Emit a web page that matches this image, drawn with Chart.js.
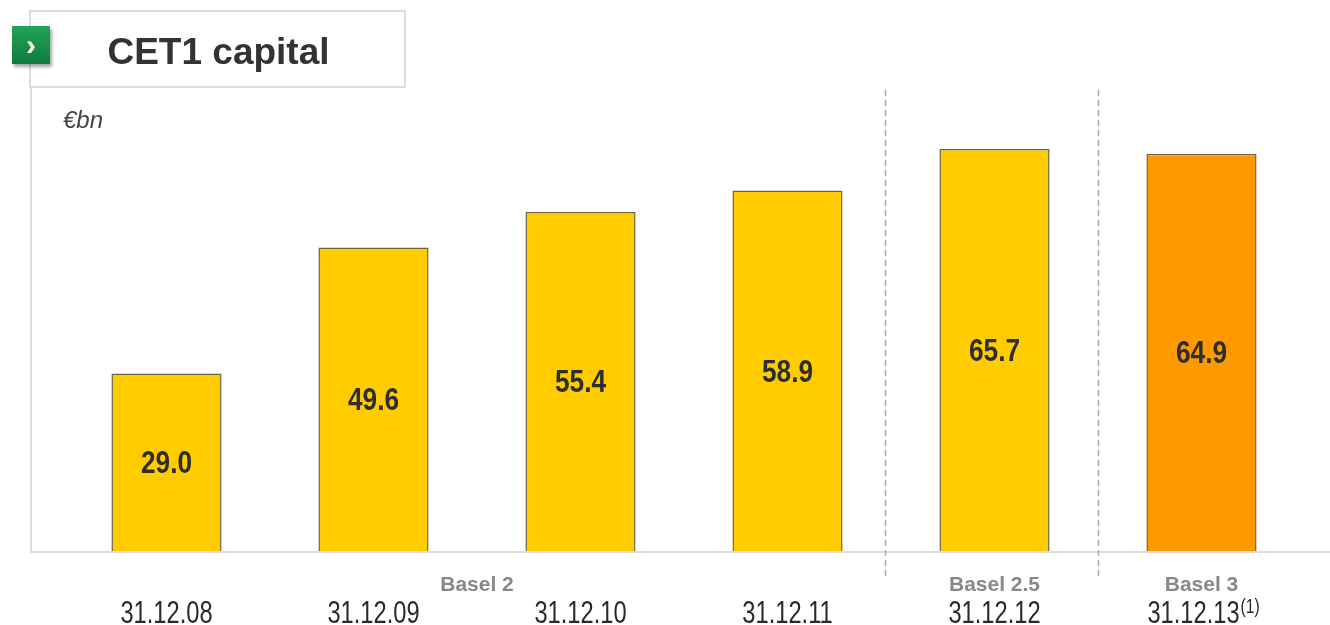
<!DOCTYPE html>
<html>
<head>
<meta charset="utf-8">
<script src="https://cdn.jsdelivr.net/npm/chart.js@4.4.1/dist/chart.umd.min.js"></script>
<style>
  html, body { margin: 0; padding: 0; background: #fff; }
  #wrap { position: relative; width: 1330px; height: 625px; overflow: hidden; }
  #c { position: absolute; left: 0; top: 0; }
  #titlebox { position: absolute; left: 29px; top: 10px; width: 373px; height: 74px;
    border: 2px solid #dcdcdc; background: #fff; box-sizing: content-box; }
  #title { position: absolute; left: 0; top: 0; width: 375px; height: 76px; line-height: 80px;
    text-align: center; font-family: "Liberation Sans", Arial, sans-serif; font-weight: bold;
    font-size: 37px; color: #333; }
  #icon { position: absolute; left: 12px; top: 26px; width: 38px; height: 38px;
    background: linear-gradient(#23a458, #0f7a3c); box-shadow: 2px 3px 3px rgba(0,0,0,0.35);
    color: #fff; font-family: "Liberation Sans", Arial, sans-serif; font-weight: bold; font-size: 30px;
    line-height: 38px; text-align: center; }
  #unit { position: absolute; left: 63px; top: 106px; font-family: "Liberation Sans", Arial, sans-serif;
    font-style: italic; font-size: 24px; color: #444; }
</style>
</head>
<body>
<div id="wrap">
  <canvas id="c" width="1330" height="625"></canvas>
  <div id="titlebox"><div id="title">CET1 capital</div></div>
  <div id="icon">›</div>
  <div id="unit">€bn</div>
</div>
<script>
const categories = ["31.12.08", "31.12.09", "31.12.10", "31.12.11", "31.12.12", "31.12.13"];
const footnotes = ["", "", "", "", "", "(1)"];
const values = [29.0, 49.6, 55.4, 58.9, 65.7, 64.9];
const barColors = ["#FFCC00", "#FFCC00", "#FFCC00", "#FFCC00", "#FFCC00", "#FF9900"];
const regimeLabels = ["Basel 2", "Basel 2.5", "Basel 3"];
const regimeSpans = [[0, 3], [4, 4], [5, 5]];
const separators = [3.47, 4.5];

const sans = '"Liberation Sans", Arial, sans-serif';

function drawScaled(ctx, text, x, y, sx, align) {
  ctx.save();
  ctx.translate(x, y);
  ctx.scale(sx, 1);
  ctx.textAlign = align || 'center';
  ctx.fillText(text, 0, 0);
  ctx.restore();
}

const decor = {
  id: 'decor',
  beforeDatasetsDraw(chart) {
    const ctx = chart.ctx;
    const area = chart.chartArea;
    const x = chart.scales.x;
    ctx.save();
    ctx.strokeStyle = '#dcdcdc';
    ctx.lineWidth = 2;
    ctx.beginPath();
    ctx.moveTo(31, 86);
    ctx.lineTo(31, area.bottom + 1);
    ctx.lineTo(1330, area.bottom + 1);
    ctx.stroke();
    ctx.strokeStyle = '#aaaaaa';
    ctx.lineWidth = 1.5;
    ctx.setLineDash([6, 4]);
    separators.forEach(s => {
      const px = Math.round(x.getPixelForValue(s)) + 0.5;
      ctx.beginPath();
      ctx.moveTo(px, 90);
      ctx.lineTo(px, 580);
      ctx.stroke();
    });
    ctx.restore();
  },
  afterDatasetsDraw(chart) {
    const ctx = chart.ctx;
    const x = chart.scales.x;
    const meta = chart.getDatasetMeta(0);
    ctx.save();
    ctx.textBaseline = 'alphabetic';
    // value labels
    ctx.fillStyle = '#2e2e2e';
    ctx.font = 'bold 32px ' + sans;
    meta.data.forEach((bar, i) => {
      const p = bar.getProps(['x', 'y', 'base'], true);
      drawScaled(ctx, values[i].toFixed(1), p.x, (p.y + p.base) / 2 + 11, 0.82);
    });
    // regime labels
    ctx.fillStyle = '#888888';
    ctx.font = 'bold 21px ' + sans;
    regimeLabels.forEach((lab, i) => {
      const [a, b] = regimeSpans[i];
      const cx = (x.getPixelForValue(a) + x.getPixelForValue(b)) / 2;
      drawScaled(ctx, lab, cx, 591, 1.0);
    });
    // category tick labels
    ctx.fillStyle = '#2a2a2a';
    x.getLabels().forEach((lab, i) => {
      ctx.font = '32px ' + sans;
      const sx = 0.74;
      const w = ctx.measureText(lab).width * sx;
      let cx = x.getPixelForValue(i);
      if (footnotes[i]) {
        cx -= 8;
        ctx.font = '20px ' + sans;
        drawScaled(ctx, footnotes[i], cx + w / 2 + 1, 613, 0.78, 'left');
        ctx.font = '32px ' + sans;
      }
      drawScaled(ctx, lab, cx, 623, sx);
    });
    ctx.restore();
  }
};

new Chart(document.getElementById('c'), {
  type: 'bar',
  data: {
    labels: categories,
    datasets: [{
      data: values,
      backgroundColor: barColors,
      borderColor: '#6e6446',
      borderWidth: 1.5,
      barPercentage: 0.532,
      categoryPercentage: 1.0
    }]
  },
  options: {
    responsive: false,
    animation: false,
    events: [],
    layout: { padding: { left: 63, right: 25, top: 92, bottom: 0 } },
    plugins: { legend: { display: false }, tooltip: { enabled: false } },
    scales: {
      x: {
        grid: { display: false, drawTicks: false },
        border: { display: false },
        ticks: { display: false, autoSkip: false },
        afterFit(scale) { scale.height = 74; }
      },
      y: {
        display: false,
        min: 0,
        max: 75
      }
    }
  },
  plugins: [decor]
});
</script>
</body>
</html>
